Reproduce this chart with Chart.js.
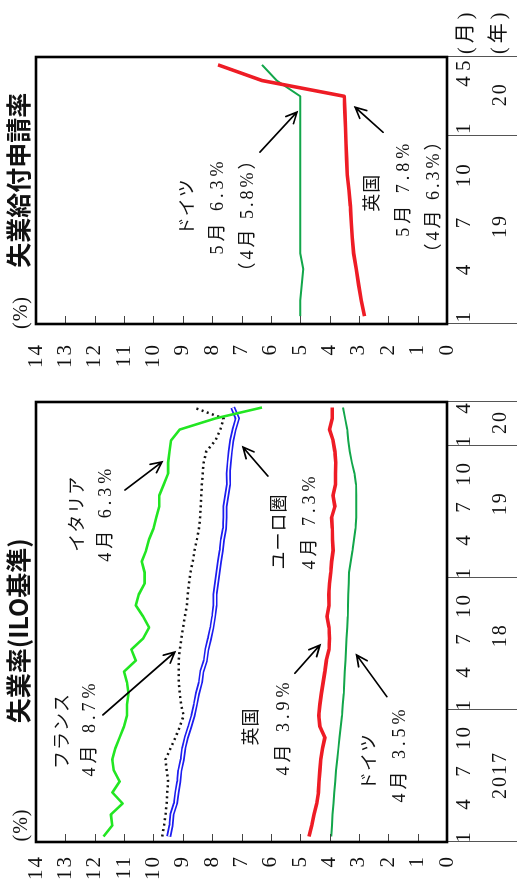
<!DOCTYPE html>
<html><head><meta charset="utf-8">
<script src="https://cdn.jsdelivr.net/npm/chart.js@4"></script>
<style>
html,body{margin:0;padding:0;background:#fff;overflow:hidden;width:517px;height:884px}
#rot{position:absolute;left:0;top:0;width:884px;height:517px;transform-origin:0 0;transform:translate(0,884px) rotate(-90deg);background:#fff}
#c1{position:absolute;left:0;top:0}
#c2{position:absolute;left:500px;top:0}
</style></head><body>
<div id="rot"><canvas id="c1" width="500" height="517"></canvas><canvas id="c2" width="384" height="517"></canvas></div>
<script>
// ---------- DATA ----------
// Left panel: ILO unemployment rate, monthly Jan 2017 - Apr 2020
const leftTicks = ['1','','','4','','','7','','','10','','',
                   '1','','','4','','','7','','','10','','',
                   '1','','','4','','','7','','','10','','',
                   '1','','','4'];
const leftMonths = [1,2,3,4,5,6,7,8,9,10,11,12, 1,2,3,4,5,6,7,8,9,10,11,12, 1,2,3,4,5,6,7,8,9,10,11,12, 1,2,3,4];
const leftYears = ['2017','18','19','20'];
const italy = [11.7, 11.4, 11.45, 11.05, 11.4, 11.15, 11.35, 11.4, 11.3, 11.15, 11.0, 10.9,
               10.9, 10.85, 10.9, 11.0, 10.6, 10.75, 10.35, 10.15, 10.35, 10.6, 10.5, 10.3,
               10.3, 10.4, 10.25, 10.15, 10.0, 9.9, 9.8, 9.8, 9.65, 9.5, 9.5, 9.45,
               9.4, 9.1, 7.9, 6.3];
const france = [9.7, 9.64, 9.59, 9.55, 9.53, 9.5, 9.55, 9.59, 9.42, 9.25, 9.1, 8.97,
                9.06, 9.1, 9.14, 9.14, 9.14, 9.1, 9.05, 8.99, 8.93, 8.86, 8.83, 8.79,
                8.74, 8.66, 8.6, 8.52, 8.45, 8.41, 8.39, 8.37, 8.35, 8.32, 8.29, 8.2,
                7.89, 7.72, 7.61, 8.63];
const euro = [9.48, 9.4, 9.37, 9.25, 9.2, 9.14, 9.1, 9.02, 8.97, 8.88, 8.76, 8.65,
              8.57, 8.5, 8.4, 8.35, 8.23, 8.18, 8.09, 8.01, 7.95, 7.9, 7.9, 7.85,
              7.8, 7.75, 7.69, 7.65, 7.58, 7.56, 7.56, 7.5, 7.44, 7.45, 7.42, 7.38,
              7.33, 7.25, 7.14, 7.3];
const uk = [4.7, 4.61, 4.53, 4.44, 4.38, 4.36, 4.33, 4.3, 4.24, 4.16, 4.33, 4.37,
            4.33, 4.28, 4.22, 4.16, 4.11, 4.02, 4.0, 4.02, 4.09, 4.02, 4.03, 4.0,
            3.96, 3.93, 3.88, 3.9, 3.91, 3.93, 3.82, 3.88, 3.8, 3.8, 3.79, 3.82,
            3.88, 4.0, 3.91, 3.91];
const germany = [3.94, 3.92, 3.9, 3.87, 3.84, 3.81, 3.78, 3.74, 3.7, 3.66, 3.62, 3.58,
                 3.55, 3.52, 3.5, 3.48, 3.46, 3.44, 3.42, 3.4, 3.38, 3.37, 3.36, 3.35,
                 3.34, 3.28, 3.22, 3.17, 3.12, 3.09, 3.09, 3.09, 3.1, 3.15, 3.24, 3.31,
                 3.36, 3.4, 3.47, 3.54];

// Right panel: claimant rate, monthly Jan 2019 - May 2020
const rightTicks = ['1','','','4','','','7','','','10','','', '1','','','4','5'];
const rightMonths = [1,2,3,4,5,6,7,8,9,10,11,12, 1,2,3,4,5];
const rightYears = ['19','20'];
const ukClaim = [2.81, 2.92, 3.01, 3.09, 3.18, 3.23, 3.26, 3.29, 3.34, 3.4, 3.42, 3.44, 3.46, 3.48, 3.5, 6.3, 7.8];
const deClaim = [5.0, 5.0, 4.95, 4.9, 5.0, 5.0, 5.0, 5.0, 5.0, 5.0, 5.0, 5.0, 5.0, 5.0, 5.0, 5.8, 6.3];

// ---------- STYLE / LAYOUT ----------
const SERIF = '"Liberation Serif", "Noto Sans CJK JP", serif';
const NOTE_FONT = '18px ' + SERIF;
const TITLE_FONT = 'bold 25px "Noto Sans CJK JP", sans-serif';

const deco = {
  id: 'deco',
  beforeDraw(chart) { chart.ctx.letterSpacing = '2px'; },
  afterDraw(chart) { chart.ctx.letterSpacing = '0px'; },
  afterDatasetsDraw(chart, args, o) {
    const {ctx, chartArea: a, scales: {x, y}} = chart;
    ctx.save();
    ctx.letterSpacing = '0px';
    // inner ticks on y axis
    ctx.strokeStyle = '#444'; ctx.lineWidth = 1;
    for (let v = 1; v < 14; v++) {
      const py = Math.round(y.getPixelForValue(v)) + 0.5;
      ctx.beginPath(); ctx.moveTo(a.left, py); ctx.lineTo(a.left + 8, py); ctx.stroke();
    }
    // year separators below the plot
    ctx.strokeStyle = '#555'; ctx.lineWidth = 1;
    const seps = [a.left, a.right];
    o.months.forEach((m, i) => { if (m === 1 && i > 0) seps.push((x.getPixelForValue(i - 1) + x.getPixelForValue(i)) / 2); });
    seps.forEach(px => { const q = Math.round(px) + 0.5; ctx.beginPath(); ctx.moveTo(q, a.bottom); ctx.lineTo(q, chart.height); ctx.stroke(); });
    // frame
    ctx.strokeStyle = '#000'; ctx.lineWidth = 2.6;
    ctx.strokeRect(a.left, a.top, a.right - a.left, a.bottom - a.top);
    // year labels
    ctx.fillStyle = '#111'; ctx.font = '20px ' + SERIF; ctx.textAlign = 'center'; ctx.textBaseline = 'middle';
    ctx.letterSpacing = '2px';
    o.years.forEach((t, k) => ctx.fillText(t, x.getPixelForValue(o.yearAt[k]) + 1, 501));
    // unit labels
    ctx.letterSpacing = '1px';
    ctx.font = '20px ' + SERIF;
    ctx.fillText('(%)', a.left + o.pctOff, 22);
    if (o.unitLabels) {
      ctx.textAlign = 'left';
      ctx.letterSpacing = '4px';
      ctx.fillText('(月)', a.right + 3, 467);
      ctx.fillText('(年)', a.right + 3, 500);
    }
    ctx.letterSpacing = '0px';
    // title
    ctx.textAlign = 'center';
    ctx.font = TITLE_FONT;
    ctx.fillText(o.title, x.getPixelForValue(o.titleAt), 18);
    // notes
    ctx.font = NOTE_FONT;
    o.notes.forEach(n => {
      ctx.letterSpacing = n.sp + 'px';
      ctx.fillText(n.t, x.getPixelForValue(n.i) + n.sp / 2, y.getPixelForValue(n.v));
    });
    ctx.letterSpacing = '0px';
    // arrows
    ctx.strokeStyle = '#000'; ctx.lineWidth = 1.7; ctx.lineCap = 'round';
    o.arrows.forEach(r => {
      const x1 = x.getPixelForValue(r.i1), y1 = y.getPixelForValue(r.v1);
      const x2 = x.getPixelForValue(r.i2), y2 = y.getPixelForValue(r.v2);
      const ang = Math.atan2(y2 - y1, x2 - x1), L = 12, w = 0.45;
      ctx.beginPath(); ctx.moveTo(x1, y1); ctx.lineTo(x2, y2);
      ctx.moveTo(x2 - L * Math.cos(ang - w), y2 - L * Math.sin(ang - w)); ctx.lineTo(x2, y2);
      ctx.lineTo(x2 - L * Math.cos(ang + w), y2 - L * Math.sin(ang + w));
      ctx.stroke();
    });
    ctx.restore();
  }
};

function line(data, color, width, order, extra) {
  return Object.assign({data, borderColor: color, borderWidth: width, order, pointRadius: 0, tension: 0, fill: false, borderJoinStyle: 'round'}, extra || {});
}

function opts(ticks, yAxisW, yPad, padRight, decoOpts) {
  return {
    responsive: false, animation: false, events: [],
    layout: {padding: {top: 36, right: padRight, left: 0, bottom: 0}},
    plugins: {legend: {display: false}, tooltip: {enabled: false}, deco: decoOpts},
    scales: {
      x: {type: 'category', offset: true,
          grid: {display: false, drawTicks: false}, border: {display: false},
          ticks: {autoSkip: false, maxRotation: 0, minRotation: 0, padding: 5, color: '#111',
                  font: {family: SERIF, size: 21},
                  callback: (v, i) => ticks[i]},
          afterFit: s => { s.height = 70; }},
      y: {min: 0, max: 14, grid: {display: false, drawTicks: false}, border: {display: false},
          ticks: {stepSize: 1, padding: yPad, color: '#111', font: {family: SERIF, size: 21}},
          afterFit: s => { s.width = yAxisW; }}
    }
  };
}

new Chart(document.getElementById('c1'), {
  type: 'line',
  data: {labels: leftTicks, datasets: [
    line(italy, '#22e622', 2.6, 0),
    line(euro, '#ffffff', 1.6, 1),
    line(euro, '#1c1cf0', 5, 2),
    line(france, '#111111', 2.5, 3, {borderDash: [2, 3.5], borderJoinStyle: 'miter'}),
    line(uk, '#ee1c25', 3.6, 4),
    line(germany, '#12a64a', 2, 5)
  ]},
  options: opts(leftTicks, 42, 13, 18, {
    months: leftMonths, years: leftYears, yearAt: [5.5, 18.2, 30.2, 37.6],
    title: '失業率(ILO基準)', titleAt: 18.7, pctOff: 17, unitLabels: false,
    notes: [
      {t: 'フランス', i: 9.55, v: 13.08, sp: 1},
      {t: '4月 8.7%', i: 9.68, v: 12.16, sp: 4},
      {t: 'イタリア', i: 29.3, v: 12.57, sp: 1},
      {t: '4月 6.3%', i: 29.2, v: 11.62, sp: 4},
      {t: 'ユーロ圏', i: 27.68, v: 5.69, sp: 1},
      {t: '4月 7.3%', i: 28.5, v: 4.67, sp: 4},
      {t: '英国', i: 9.95, v: 6.64, sp: 1},
      {t: '4月 3.9%', i: 9.77, v: 5.55, sp: 4},
      {t: 'ドイツ', i: 6.77, v: 2.62, sp: 1},
      {t: '4月 3.5%', i: 7.32, v: 1.6, sp: 4}
    ],
    arrows: [
      {i1: 11.05, v1: 11.72, i2: 16.77, v2: 9.27},
      {i1: 31.5, v1: 10.97, i2: 34.05, v2: 9.71},
      {i1: 32.77, v1: 6.1, i2: 35.4, v2: 6.95},
      {i1: 14.84, v1: 5.18, i2: 17.4, v2: 4.33},
      {i1: 12.71, v1: 2.05, i2: 16.5, v2: 3.08}
    ]
  }),
  plugins: [deco]
});

new Chart(document.getElementById('c2'), {
  type: 'line',
  data: {labels: rightTicks, datasets: [
    line(ukClaim, '#ee1c25', 3.6, 0),
    line(deClaim, '#12a64a', 2, 1)
  ]},
  options: opts(rightTicks, 60, 19, 57, {
    months: rightMonths, years: rightYears, yearAt: [5.67, 14.07],
    title: '失業給付申請率', titleAt: 8.66, pctOff: 11.5, unitLabels: true,
    notes: [
      {t: 'ドイツ', i: 6.94, v: 8.82, sp: 1},
      {t: '5月 6.3%', i: 6.88, v: 7.8, sp: 4},
      {t: '（4月 5.8%）', i: 6.37, v: 6.78, sp: 3},
      {t: '英国', i: 7.83, v: 2.52, sp: 1},
      {t: '5月 7.8%', i: 8.02, v: 1.46, sp: 4},
      {t: '（4月 6.3%）', i: 7.58, v: 0.44, sp: 3}
    ],
    arrows: [
      {i1: 10.44, v1: 6.37, i2: 12.99, v2: 5.11},
      {i1: 11.71, v1: 2.18, i2: 13.3, v2: 3.13}
    ]
  }),
  plugins: [deco]
});
</script>
</body></html>
